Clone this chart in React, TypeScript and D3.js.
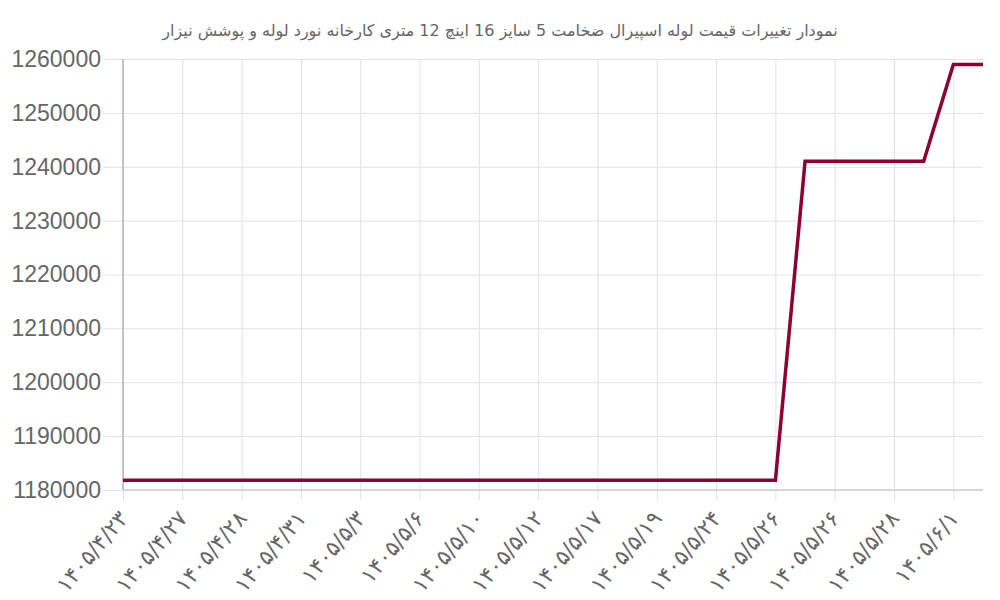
import React, { useEffect, useRef } from 'react';
import * as d3 from 'd3';

const chartTitle = 'نمودار تغییرات قیمت لوله اسپیرال ضخامت 5 سایز 16 اینچ 12 متری کارخانه نورد لوله و پوشش نیزار';

// labels are only shown on every other point (auto-skipped)
const tickLabels = [
  '۱۴۰۵/۴/۲۳', '۱۴۰۵/۴/۲۷', '۱۴۰۵/۴/۲۸', '۱۴۰۵/۴/۳۱', '۱۴۰۵/۵/۳',
  '۱۴۰۵/۵/۶', '۱۴۰۵/۵/۱۰', '۱۴۰۵/۵/۱۲', '۱۴۰۵/۵/۱۷', '۱۴۰۵/۵/۱۹',
  '۱۴۰۵/۵/۲۴', '۱۴۰۵/۵/۲۶', '۱۴۰۵/۵/۲۶', '۱۴۰۵/۵/۲۸', '۱۴۰۵/۶/۱',
];

const prices = [
  1181800, 1181800, 1181800, 1181800, 1181800, 1181800, 1181800, 1181800,
  1181800, 1181800, 1181800, 1181800, 1181800, 1181800, 1181800, 1181800,
  1181800, 1181800, 1181800, 1181800, 1181800, 1181800, 1181800, 1241000,
  1241000, 1241000, 1241000, 1241000, 1259000, 1259000,
];

const yTicks = [1180000, 1190000, 1200000, 1210000, 1220000, 1230000, 1240000, 1250000, 1260000];

const App: React.FC = () => {
  const svgRef = useRef<SVGSVGElement | null>(null);

  useEffect(() => {
    if (!svgRef.current) return;
    const svg = d3.select(svgRef.current);
    svg.selectAll('*').remove();

    const width = 1000;
    const height = 600;
    const margin = { top: 59, right: 17, bottom: 110, left: 123 };
    const innerW = width - margin.left - margin.right;
    const innerH = height - margin.top - margin.bottom;

    const x = d3.scaleLinear().domain([0, prices.length - 1]).range([0, innerW]);
    const y = d3.scaleLinear().domain([1180000, 1260000]).range([innerH, 0]);

    svg.append('text')
      .attr('x', 500)
      .attr('y', 36)
      .attr('text-anchor', 'middle')
      .attr('direction', 'rtl')
      .style('font-family', '"DejaVu Sans", sans-serif')
      .style('font-size', '16px')
      .style('fill', '#666')
      .text(chartTitle);

    const g = svg.append('g').attr('transform', `translate(${margin.left},${margin.top})`);

    // horizontal grid + y ticks
    const yAxis = g.append('g')
      .call(d3.axisLeft(y).tickValues(yTicks).tickSize(-innerW).tickPadding(3).tickFormat(d => String(d)));
    yAxis.select('.domain').remove();
    yAxis.selectAll('line').attr('stroke', '#e2e2e2').attr('x1', -20).attr('stroke-width', 1);
    yAxis.selectAll('text')
      .attr('x', -22)
      .style('font-family', '"Liberation Sans", Arial, sans-serif')
      .style('font-size', '23px')
      .style('fill', '#666');

    // vertical grid + x ticks
    const tickIdx = tickLabels.map((_, i) => i * 2);
    const xAxis = g.append('g')
      .attr('transform', `translate(0,${innerH})`)
      .call(d3.axisBottom(x).tickValues(tickIdx).tickSize(10).tickFormat((_, i) => tickLabels[i]));
    xAxis.select('.domain').remove();
    xAxis.selectAll('line').attr('y1', -innerH).attr('stroke', '#e2e2e2');
    xAxis.selectAll('text')
      .attr('direction', 'ltr')
      .attr('text-anchor', 'end')
      .attr('dy', '0.35em')
      .attr('transform', 'translate(0,24) rotate(-50)')
      .attr('y', 0)
      .style('font-family', '"DejaVu Sans", sans-serif')
      .style('font-size', '22px')
      .style('fill', '#666');

    // axis lines
    g.append('line').attr('x1', 0).attr('x2', 0).attr('y1', 0).attr('y2', innerH)
      .attr('stroke', '#b4b4b4').attr('stroke-width', 1.5);
    g.append('line').attr('x1', 0).attr('x2', innerW).attr('y1', innerH).attr('y2', innerH)
      .attr('stroke', '#cccccc').attr('stroke-width', 1.5);

    const line = d3.line<number>()
      .x((_, i) => x(i))
      .y(d => y(d));

    g.append('path')
      .datum(prices)
      .attr('fill', 'none')
      .attr('stroke', '#8f0032')
      .attr('stroke-width', 3.5)
      .attr('d', line);
  }, []);

  return (
    <div style={{ position: 'absolute', left: 0, top: 0, width: 1000, height: 600, background: '#fff' }}>
      <svg ref={svgRef} width={1000} height={600} style={{ display: 'block' }} />
    </div>
  );
};

export default App;
